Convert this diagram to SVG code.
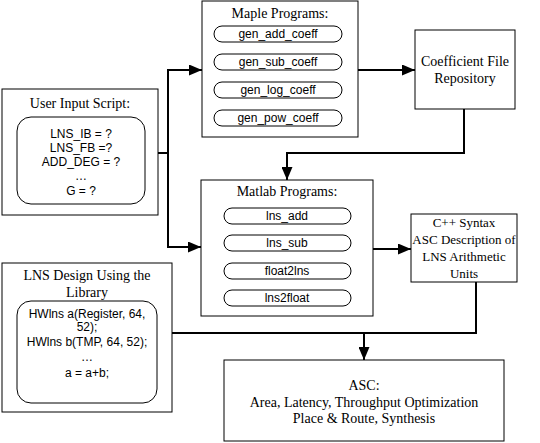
<svg xmlns="http://www.w3.org/2000/svg" width="540" height="443" viewBox="0 0 540 443">
<defs>
<marker id="ah" viewBox="0 0 13 11" refX="13" refY="5.5" markerWidth="13" markerHeight="11" markerUnits="userSpaceOnUse" orient="auto"><path d="M0,0 L13,5.5 L0,11 z" fill="#000"/></marker>
<style>
.box{fill:#fff;stroke:#000;stroke-width:1}
.pill{fill:#fff;stroke:#000;stroke-width:1}
.t{font-family:"Liberation Serif","Times New Roman",serif;font-size:14px;text-anchor:middle;fill:#000}
.t2{font-family:"Liberation Serif","Times New Roman",serif;font-size:13px;text-anchor:middle;fill:#000}
.s{font-family:"Liberation Sans",Arial,sans-serif;font-size:12px;text-anchor:middle;fill:#000}
.c{fill:none;stroke:#000;stroke-width:2}
</style>
</defs>
<rect width="540" height="443" fill="#fff"/>
<g id="connectors">
<line class="c" x1="158" y1="153" x2="168" y2="153"/>
<line class="c" x1="168" y1="69" x2="168" y2="248"/>
<line class="c" x1="167" y1="70" x2="202" y2="70" marker-end="url(#ah)"/>
<line class="c" x1="167" y1="247" x2="201" y2="247" marker-end="url(#ah)"/>
<line class="c" x1="358" y1="70" x2="415" y2="70" marker-end="url(#ah)"/>
<polyline class="c" points="464,109 464,153 287,153 287,180" marker-end="url(#ah)"/>
<line class="c" x1="373" y1="249" x2="411" y2="249" marker-end="url(#ah)"/>
<polyline class="c" points="476,282 476,333 172,333"/>
<line class="c" x1="364" y1="333" x2="364" y2="360" marker-end="url(#ah)"/>
</g>
<g id="maple">
<rect class="box" x="202" y="1" width="156" height="136"/>
<text class="t" x="280" y="18">Maple Programs:</text>
<rect class="pill" x="214" y="26" width="128" height="16" rx="8"/>
<text class="s" x="278" y="38">gen_add_coeff</text>
<rect class="pill" x="214" y="54" width="128" height="16" rx="8"/>
<text class="s" x="278" y="66">gen_sub_coeff</text>
<rect class="pill" x="214" y="82" width="128" height="16" rx="8"/>
<text class="s" x="278" y="94">gen_log_coeff</text>
<rect class="pill" x="214" y="110" width="128" height="16" rx="8"/>
<text class="s" x="278" y="122">gen_pow_coeff</text>
</g>
<g id="coeff">
<rect class="box" x="415" y="30" width="100" height="79"/>
<text class="t" x="465" y="66">Coefficient File</text>
<text class="t" x="465" y="83">Repository</text>
</g>
<g id="userinput">
<rect class="box" x="2" y="89" width="156" height="126"/>
<text class="t" x="80" y="108">User Input Script:</text>
<rect class="box" x="17" y="117" width="128" height="87" rx="14"/>
<text class="s" x="81" y="138">LNS_IB = ?</text>
<text class="s" x="81" y="152">LNS_FB =?</text>
<text class="s" x="81" y="166">ADD_DEG = ?</text>
<text class="s" x="81" y="180">…</text>
<text class="s" x="81" y="195">G = ?</text>
</g>
<g id="matlab">
<rect class="box" x="201" y="180" width="172" height="136"/>
<text class="t" x="287" y="196">Matlab Programs:</text>
<rect class="pill" x="224" y="208" width="127" height="16" rx="8"/>
<text class="s" x="287" y="220">lns_add</text>
<rect class="pill" x="224" y="235" width="127" height="16" rx="8"/>
<text class="s" x="287" y="247">lns_sub</text>
<rect class="pill" x="224" y="263" width="127" height="16" rx="8"/>
<text class="s" x="287" y="275">float2lns</text>
<rect class="pill" x="224" y="290" width="127" height="16" rx="8"/>
<text class="s" x="287" y="302">lns2float</text>
</g>
<g id="cpp">
<rect class="box" x="411" y="214" width="106" height="68"/>
<text class="t2" x="464" y="227">C++ Syntax</text>
<text class="t2" x="464" y="244">ASC Description of</text>
<text class="t2" x="464" y="261">LNS Arithmetic</text>
<text class="t2" x="464" y="278">Units</text>
</g>
<g id="lnsdesign">
<rect class="box" x="2" y="263" width="170" height="149"/>
<text class="t" x="87" y="280">LNS Design Using the</text>
<text class="t" x="87" y="297">Library</text>
<rect class="box" x="17" y="301" width="140" height="102" rx="14"/>
<text class="s" x="87" y="318">HWlns a(Register, 64,</text>
<text class="s" x="87" y="331">52);</text>
<text class="s" x="87" y="346">HWlns b(TMP, 64, 52);</text>
<text class="s" x="87" y="361">…</text>
<text class="s" x="87" y="377">a = a+b;</text>
</g>
<g id="asc">
<rect class="box" x="224" y="360" width="280" height="81"/>
<text class="t" x="364" y="390">ASC:</text>
<text class="t" x="364" y="407">Area, Latency, Throughput Optimization</text>
<text class="t" x="364" y="423">Place &amp; Route, Synthesis</text>
</g>
</svg>
